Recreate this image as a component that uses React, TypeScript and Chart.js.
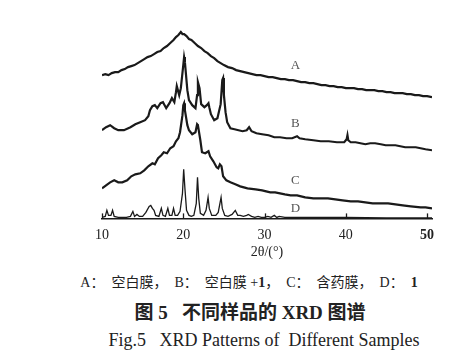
import React, { useEffect, useRef } from "react";
import { Chart, registerables } from "chart.js";

Chart.register(...registerables);

// 2θ tick labels
const xTicks = [10, 20, 30, 40, 50];
const sampleNames = ["A", "B", "C", "D"];

// [2θ (deg), intensity (a.u., offset-stacked)]
const patternA: [number, number][] = [
  [10.0, 143], [10.4, 144], [10.8, 143], [11.2, 145], [11.6, 146], [12.0, 146], [12.4, 148], [12.8, 149],
  [13.2, 151], [13.6, 152], [14.0, 153], [14.4, 155], [14.8, 157], [15.2, 159], [15.6, 161], [16.0, 162],
  [16.4, 164], [16.8, 166], [17.2, 167], [17.6, 170], [18.0, 172], [18.4, 175], [18.8, 178], [19.1, 181],
  [19.4, 183], [19.7, 186], [19.9, 184], [20.1, 184], [20.4, 182], [20.7, 179], [21.0, 178], [21.4, 175],
  [21.8, 172], [22.2, 170], [22.6, 167], [23.0, 165], [23.4, 162], [23.8, 160], [24.2, 157], [24.6, 155],
  [25.0, 153], [25.5, 151], [26.0, 150], [26.5, 148], [27.0, 147], [27.5, 146], [28.0, 145], [28.5, 144],
  [29.0, 143], [29.5, 143], [30.0, 142], [30.5, 141], [31.0, 141], [31.5, 140], [32.0, 139], [32.5, 139],
  [33.0, 138], [33.5, 138], [34.0, 137], [34.5, 136], [35.0, 136], [35.5, 135], [36.0, 135], [36.5, 134],
  [37.0, 133], [37.5, 133], [38.0, 132], [38.5, 132], [39.0, 131], [39.5, 131], [40.0, 130], [40.5, 130],
  [41.0, 130], [41.5, 129], [42.0, 129], [42.5, 128], [43.0, 128], [43.5, 128], [44.0, 127], [44.5, 127],
  [45.0, 126], [45.5, 126], [46.0, 125], [46.5, 125], [47.0, 125], [47.5, 124], [48.0, 124], [48.5, 123],
  [49.0, 123], [49.5, 122], [50.0, 122], [50.6, 121],
];

const patternB: [number, number][] = [
  [10.0, 88], [10.5, 91], [11.0, 93], [11.5, 90], [12.0, 88], [12.7, 88], [13.5, 91], [14.1, 94],
  [14.7, 96], [15.3, 98], [15.7, 102], [15.9, 108], [16.2, 112], [16.5, 113], [16.8, 110], [17.2, 115],
  [17.5, 116], [17.9, 110], [18.3, 115], [18.6, 120], [18.9, 116], [19.1, 126], [19.2, 132], [19.5, 123],
  [19.7, 130], [20.0, 153], [20.1, 161], [20.2, 156], [20.5, 128], [20.7, 118], [21.1, 113], [21.5, 110],
  [21.7, 123], [21.8, 136], [22.0, 130], [22.2, 114], [22.6, 111], [22.9, 113], [23.1, 115], [23.2, 111],
  [23.4, 104], [23.8, 98], [24.2, 100], [24.6, 114], [24.8, 138], [24.9, 140], [25.0, 123], [25.2, 106],
  [25.4, 96], [25.8, 90], [26.3, 89], [26.8, 88], [27.3, 87], [27.8, 88], [28.1, 91], [28.4, 87],
  [29.0, 85], [29.7, 84], [30.5, 83], [31.2, 81], [31.9, 81], [32.7, 80], [33.4, 80], [34.0, 82],
  [34.3, 80], [35.0, 79], [36.0, 78], [36.9, 77], [37.9, 77], [38.9, 76], [39.8, 76], [40.1, 79],
  [40.2, 83], [40.3, 78], [40.6, 76], [41.2, 76], [41.8, 75], [42.4, 74], [43.0, 75], [43.6, 75],
  [44.3, 74], [44.9, 73], [45.5, 73], [46.1, 73], [46.7, 72], [47.3, 71], [48.0, 71], [48.6, 71],
  [49.2, 70], [49.8, 69], [50.6, 68],
];

const patternC: [number, number][] = [
  [10.0, 30], [10.5, 33], [11.0, 36], [11.5, 38], [12.0, 36], [12.5, 36], [13.1, 38], [13.6, 42],
  [14.1, 44], [14.7, 45], [15.2, 48], [15.7, 52], [16.2, 55], [16.5, 54], [16.9, 60], [17.3, 63],
  [17.6, 66], [18.0, 65], [18.4, 70], [18.8, 72], [19.1, 77], [19.4, 80], [19.6, 86], [19.9, 103],
  [20.0, 113], [20.1, 115], [20.2, 108], [20.5, 93], [20.7, 88], [21.1, 84], [21.5, 86], [21.7, 94],
  [21.8, 93], [22.1, 78], [22.3, 66], [22.7, 65], [23.1, 67], [23.3, 62], [23.7, 57], [24.1, 51],
  [24.3, 50], [24.5, 54], [24.7, 52], [24.9, 42], [25.3, 38], [25.8, 36], [26.4, 34], [27.0, 32],
  [27.9, 30], [28.9, 29], [29.7, 28], [30.2, 27], [30.7, 26], [31.3, 26], [31.9, 25], [32.5, 24],
  [33.2, 23], [34.0, 23], [35.0, 21], [36.0, 20], [36.9, 20], [37.8, 20], [38.7, 19], [39.6, 18],
  [40.6, 17], [41.5, 17], [42.4, 16], [43.3, 15], [44.3, 15], [45.2, 15], [46.1, 14], [47.0, 13],
  [48.0, 12], [49.2, 11], [49.8, 11], [50.6, 10],
];

const patternD: [number, number][] = [
  [10.0, 1], [10.4, 2], [10.6, 8], [10.8, 3], [11.1, 3], [11.3, 8], [11.5, 2], [12.0, 1],
  [12.5, 1], [13.0, 1], [13.5, 2], [13.8, 7], [14.0, 2], [14.3, 4], [14.6, 2], [15.0, 2],
  [15.4, 6], [15.8, 12], [16.0, 13], [16.2, 10], [16.4, 8], [16.6, 3], [17.0, 2], [17.3, 10],
  [17.5, 3], [17.8, 2], [18.1, 10], [18.3, 3], [18.6, 3], [18.8, 10], [19.0, 3], [19.3, 3],
  [19.6, 7], [19.9, 25], [20.05, 49], [20.2, 30], [20.4, 8], [20.7, 3], [21.0, 2], [21.3, 3],
  [21.6, 15], [21.75, 41], [21.9, 20], [22.1, 5], [22.5, 3], [22.8, 8], [23.05, 21], [23.2, 10],
  [23.5, 3], [24.0, 3], [24.3, 6], [24.65, 21], [24.8, 10], [25.1, 3], [25.5, 2], [26.0, 4],
  [26.4, 8], [26.7, 3], [27.0, 3], [27.4, 2], [27.8, 3], [28.0, 4], [28.4, 2], [28.8, 1],
  [29.2, 2], [29.6, 1], [30.0, 1], [30.4, 2], [30.8, 1], [31.2, 3], [31.5, 1], [31.8, 2],
  [32.5, 1], [33.5, 1], [35.0, 1], [37.0, 1], [40.0, 1], [45.0, 0.5], [50.6, 0.5],
];

const patterns = [patternA, patternB, patternC, patternD];
const labelTheta = 33.8;

const SERIF = '"Liberation Serif", "Times New Roman", serif';
const INK = "#1a1a1a";

function valueAt(pts: [number, number][], x: number): number {
  for (let i = 1; i < pts.length; i++) {
    if (pts[i][0] >= x) {
      const [x0, y0] = pts[i - 1];
      const [x1, y1] = pts[i];
      return y0 + ((y1 - y0) * (x - x0)) / (x1 - x0);
    }
  }
  return pts[pts.length - 1][1];
}

const decorPlugin = {
  id: "decor",
  afterDraw(chart: any) {
    const ctx = chart.ctx;
    const xs = chart.scales.x;
    const ys = chart.scales.y;
    const bottom = chart.chartArea.bottom;
    ctx.save();
    // inward tick marks
    ctx.strokeStyle = INK;
    ctx.lineWidth = 1.3;
    xTicks.forEach((t) => {
      const px = Math.round(xs.getPixelForValue(t)) + 0.5;
      ctx.beginPath();
      ctx.moveTo(px, bottom);
      ctx.lineTo(px, bottom - 5);
      ctx.stroke();
    });
    // curve letters
    const lifts = [15, 13, 15, 9];
    ctx.fillStyle = "#555";
    ctx.font = `13px ${SERIF}`;
    ctx.textAlign = "center";
    ctx.textBaseline = "middle";
    patterns.forEach((p, i) => {
      const v = valueAt(p, labelTheta);
      ctx.fillText(sampleNames[i], xs.getPixelForValue(labelTheta), ys.getPixelForValue(v) - lifts[i]);
    });
    ctx.restore();
  },
};

export default function App() {
  const ref = useRef<HTMLCanvasElement | null>(null);

  useEffect(() => {
    if (!ref.current) return;
    const chart = new Chart(ref.current, {
      type: "line",
      data: {
        datasets: patterns.map((p, i) => ({
          label: sampleNames[i],
          data: p.map(([x, y]) => ({ x, y })),
          borderColor: INK,
          borderWidth: i === 3 ? 1.3 : 2.2,
          pointRadius: 0,
          tension: 0,
          fill: false,
        })),
      },
      options: {
        animation: false,
        responsive: false,
        devicePixelRatio: 1,
        layout: { padding: { left: 102, right: 37, top: 18, bottom: 9 } },
        plugins: { legend: { display: false }, tooltip: { enabled: false } },
        scales: {
          x: {
            type: "linear",
            min: 10,
            max: 50.6,
            afterBuildTicks: (s: any) => {
              s.ticks = xTicks.map((v) => ({ value: v }));
            },
            grid: { display: false, drawTicks: false },
            border: { display: true, color: INK, width: 1.5 },
            ticks: {
              padding: 9,
              color: "#222",
              maxRotation: 0,
              autoSkip: false,
              font: (c: any) => ({
                family: SERIF,
                size: 14,
                weight: c.tick && c.tick.value === 50 ? "bold" : "normal",
              }),
            },
            title: {
              display: true,
              text: "2θ/(°)",
              color: "#222",
              font: { family: SERIF, size: 14 },
              padding: { top: -9, bottom: 0 },
            },
          },
          y: { display: false, min: 0, max: 200 },
        },
      },
      plugins: [decorPlugin],
    } as any);
    return () => chart.destroy();
  }, []);

  const cap: React.CSSProperties = {
    position: "absolute",
    transform: "translateX(-50%)",
    whiteSpace: "pre",
    color: "#222",
    fontFamily: '"Liberation Serif", "Noto Sans CJK SC", serif',
  };

  return (
    <div style={{ position: "absolute", left: 0, top: 0, width: 469, height: 363, background: "#fff", overflow: "hidden" }}>
      <canvas ref={ref} width={469} height={270} style={{ position: "absolute", left: 0, top: 0 }} />
      <div style={{ ...cap, left: 249, top: 275, fontSize: 14, lineHeight: "16px" }}>
        {"A：  空白膜，  B：  空白膜 +"}<b>1</b>{"，  C：  含药膜，  D：  "}<b>1</b>
      </div>
      <div style={{ ...cap, left: 250, top: 302, fontSize: 19, lineHeight: "22px", fontWeight: "bold" }}>
        {"图 5   不同样品的 XRD 图谱"}
      </div>
      <div style={{ ...cap, left: 264, top: 330, fontSize: 18, lineHeight: "20px" }}>
        {"Fig.5   XRD Patterns of  Different Samples"}
      </div>
    </div>
  );
}
